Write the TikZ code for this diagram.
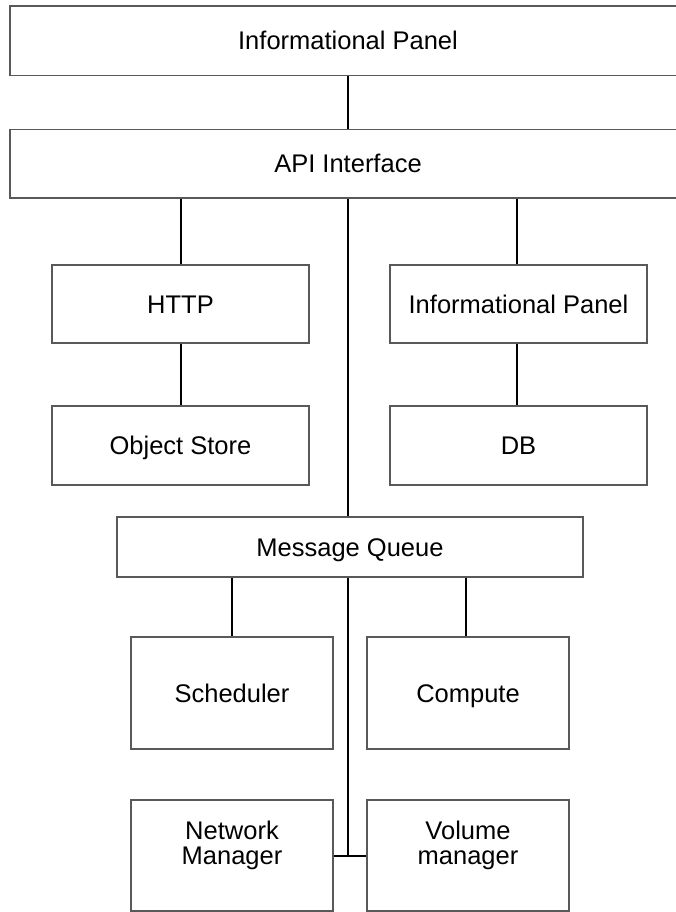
\documentclass[tikz,border=0pt]{standalone}
\usepackage{fontspec}
\setmainfont{Liberation Sans}
\begin{document}
\begin{tikzpicture}[x=1pt,y=-1pt,
  box/.style={draw=black!65,line width=1.8pt,rectangle,inner sep=0pt,
    font=\fontsize{25.5}{25}\selectfont,align=center,
    text height=23.4pt,text depth=5pt},
  conn/.style={draw=black,line width=2pt}]
\useasboundingbox[fill=white] (0,0) rectangle (676,912);
\node[box,minimum width=676,minimum height=69.5] (top) at (348,40.75) {Informational Panel};
\node[box,minimum width=676,minimum height=68.5] (api) at (348,163.75) {API Interface};
\node[box,minimum width=257,minimum height=78] (http) at (180.5,304) {HTTP};
\node[box,minimum width=257,minimum height=78] (info) at (518.5,304) {Informational Panel};
\node[box,minimum width=257,minimum height=79] (obj) at (180.5,445.5) {Object Store};
\node[box,minimum width=257,minimum height=79] (db) at (518.5,445.5) {DB};
\node[box,minimum width=466,minimum height=60] (mq) at (350,547) {Message Queue};
\node[box,minimum width=202,minimum height=112] (sched) at (232,693) {Scheduler};
\node[box,minimum width=202,minimum height=112] (comp) at (468,693) {Compute};
\node[box,minimum width=202,minimum height=111] (net) at (232,855.5) {Network\\Manager};
\node[box,minimum width=202,minimum height=111] (vol) at (468,855.5) {Volume\\manager};
\coordinate (j) at (348,855.5);
\draw[conn] (top.south -| j) -- (api.north -| j);
\draw[conn] (api.south -| http) -- (http.north);
\draw[conn] (api.south -| 517,0) -- (info.north -| 517,0);
\draw[conn] (http.south) -- (obj.north);
\draw[conn] (info.south -| 517,0) -- (db.north -| 517,0);
\draw[conn] (api.south -| j) -- (mq.north -| j);
\draw[conn] (mq.south -| sched) -- (sched.north);
\draw[conn] (mq.south -| 466,0) -- (comp.north -| 466,0);
\draw[conn] (mq.south -| j) -- (j);
\draw[conn] (net.east) -- (vol.west);
\end{tikzpicture}
\end{document}
